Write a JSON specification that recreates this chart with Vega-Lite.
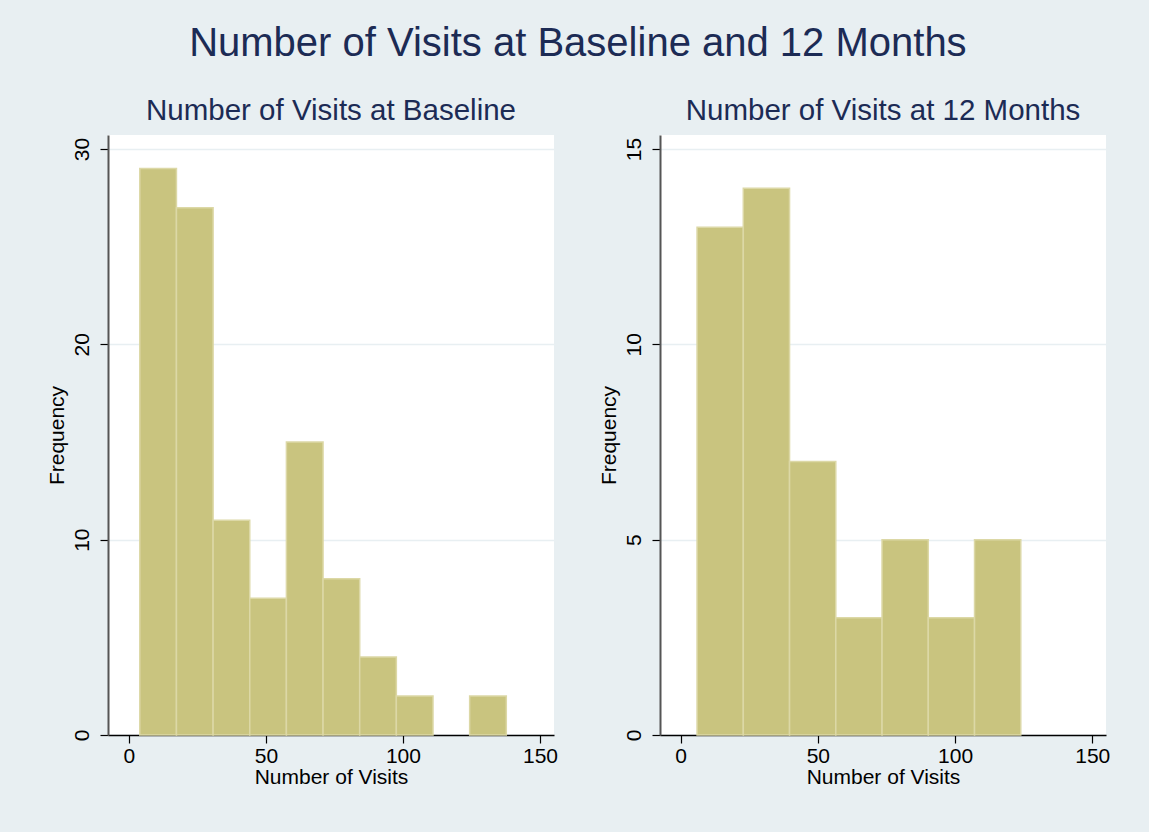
{
  "$schema": "https://vega.github.io/schema/vega-lite/v6.json",
  "background": "#E8EFF2",
  "padding": {"left": 46, "top": 23, "right": 44, "bottom": 57},
  "title": {
    "text": "Number of Visits at Baseline and 12 Months",
    "fontSize": 40,
    "color": "#1C2B55",
    "anchor": "middle",
    "offset": 32
  },
  "datasets": {
    "baseline": [
      {"bin_start": 4.0, "bin_end": 17.37, "count": 29},
      {"bin_start": 17.37, "bin_end": 30.74, "count": 27},
      {"bin_start": 30.74, "bin_end": 44.11, "count": 11},
      {"bin_start": 44.11, "bin_end": 57.48, "count": 7},
      {"bin_start": 57.48, "bin_end": 70.85, "count": 15},
      {"bin_start": 70.85, "bin_end": 84.22, "count": 8},
      {"bin_start": 84.22, "bin_end": 97.59, "count": 4},
      {"bin_start": 97.59, "bin_end": 110.96, "count": 2},
      {"bin_start": 124.33, "bin_end": 137.7, "count": 2}
    ],
    "month12": [
      {"bin_start": 6.0, "bin_end": 22.85, "count": 13},
      {"bin_start": 22.85, "bin_end": 39.7, "count": 14},
      {"bin_start": 39.7, "bin_end": 56.55, "count": 7},
      {"bin_start": 56.55, "bin_end": 73.4, "count": 3},
      {"bin_start": 73.4, "bin_end": 90.25, "count": 5},
      {"bin_start": 90.25, "bin_end": 107.1, "count": 3},
      {"bin_start": 107.1, "bin_end": 123.95, "count": 5}
    ]
  },
  "bounds": "flush",
  "spacing": 106,
  "hconcat": [
    {
      "width": 446,
      "height": 600,
      "title": {"text": "Number of Visits at Baseline"},
      "data": {"name": "baseline"},
      "mark": {"type": "bar", "color": "#C9C47F", "stroke": "#DCD8A6", "strokeWidth": 1.5},
      "encoding": {
        "x": {
          "field": "bin_start",
          "type": "quantitative",
          "scale": {"domain": [-7.6, 155.1], "nice": false, "zero": false},
          "axis": {"values": [0, 50, 100, 150], "title": "Number of Visits"}
        },
        "x2": {"field": "bin_end"},
        "y": {
          "field": "count",
          "type": "quantitative",
          "scale": {"domain": [0, 30.72], "nice": false},
          "axis": {"values": [0, 10, 20, 30], "title": "Frequency"}
        },
        "y2": {"datum": 0}
      }
    },
    {
      "width": 446,
      "height": 600,
      "title": {"text": "Number of Visits at 12 Months"},
      "data": {"name": "month12"},
      "mark": {"type": "bar", "color": "#C9C47F", "stroke": "#DCD8A6", "strokeWidth": 1.5},
      "encoding": {
        "x": {
          "field": "bin_start",
          "type": "quantitative",
          "scale": {"domain": [-7.5, 155], "nice": false, "zero": false},
          "axis": {"values": [0, 50, 100, 150], "title": "Number of Visits"}
        },
        "x2": {"field": "bin_end"},
        "y": {
          "field": "count",
          "type": "quantitative",
          "scale": {"domain": [0, 15.36], "nice": false},
          "axis": {"values": [0, 5, 10, 15], "title": "Frequency"}
        },
        "y2": {"datum": 0}
      }
    }
  ],
  "config": {
    "font": "Liberation Sans",
    "view": {"fill": "white", "stroke": null},
    "title": {"font": "Liberation Sans", "fontSize": 29.5, "fontWeight": "normal", "color": "#1C2B55", "offset": 9, "anchor": "middle"},
    "axis": {
      "labelFont": "Liberation Sans",
      "labelFontSize": 21,
      "labelColor": "black",
      "titleFont": "Liberation Sans",
      "titleFontSize": 21,
      "titleFontWeight": "normal",
      "titleColor": "black",
      "tickColor": "black",
      "tickSize": 8,
      "tickWidth": 1.2,
      "domainColor": "black",
      "domainWidth": 1.5,
      "gridColor": "#E8EFF2",
      "gridWidth": 1.5
    },
    "axisX": {"grid": false, "labelPadding": 2, "titlePadding": 0},
    "axisY": {
      "grid": true,
      "labelAngle": 270,
      "labelAlign": "center",
      "labelBaseline": "bottom",
      "labelPadding": 8,
      "titlePadding": 4,
      "domainColor": "#555555",
      "domainWidth": 2
    }
  }
}
